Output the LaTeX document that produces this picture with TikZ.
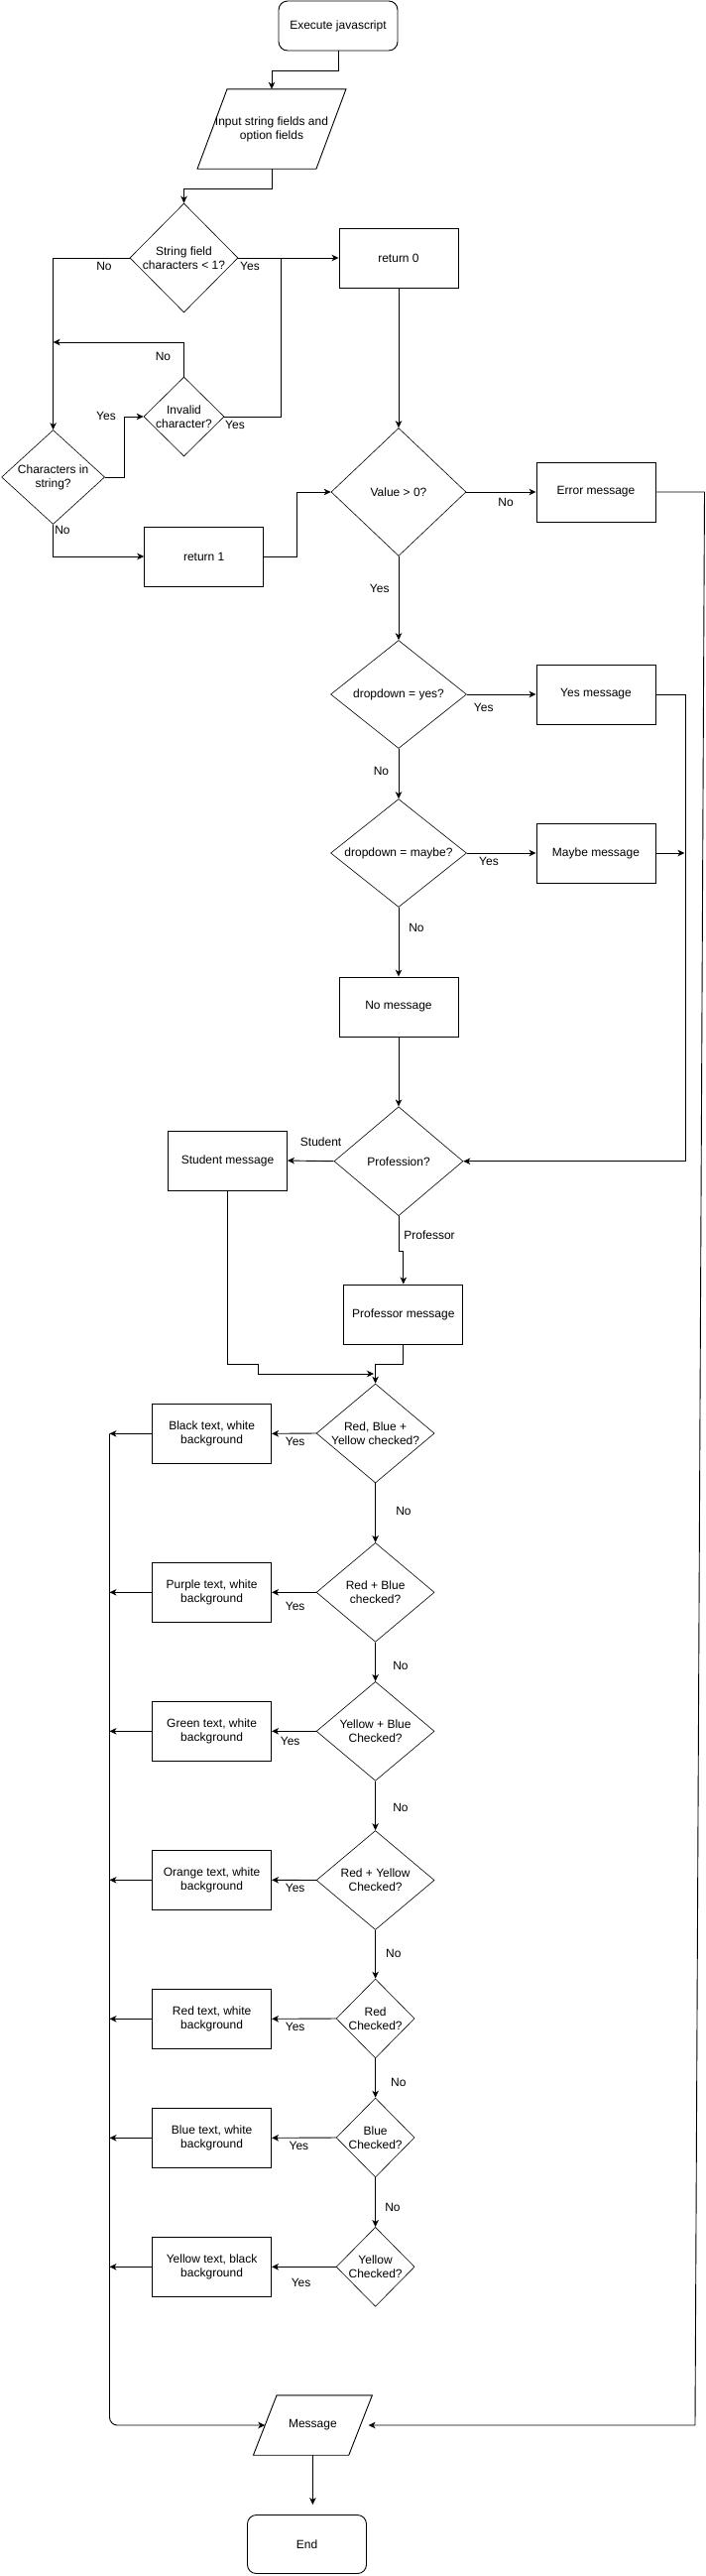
\documentclass[tikz,border=0pt]{standalone}
\usepackage{fontspec}
\setmainfont{Liberation Sans}
\usetikzlibrary{shapes.geometric,arrows.meta,calc}
\begin{document}
\begin{tikzpicture}[x=1pt,y=-1pt,
  every node/.style={font=\fontsize{12}{14}\selectfont},
  box/.style={draw, line width=0.9pt, minimum width=120pt, minimum height=60pt, inner sep=1pt, align=center},
  rbox/.style={box, rounded corners=9pt},
  dec/.style={draw, diamond, line width=0.6pt, inner sep=0pt},
  dtext/.style={align=center, inner sep=0pt},
  io/.style={minimum height=60pt, inner sep=0pt, align=center},
  arr/.style={line width=0.9pt, -{Stealth[length=7pt,width=6.5pt,inset=2pt]}},
  ln/.style={line width=0.9pt},
  lbl/.style={inner sep=0pt}]
\fill[white] (0,0) rectangle (712,2597);
\useasboundingbox (0,0) rectangle (712,2597);

% ---------- nodes ----------
\node[rbox, minimum height=50pt] (exec) at (341,26) {Execute javascript};
\node[io, minimum width=119.5pt, minimum height=80pt] (input) at (274,130) {Input string fields and\\option fields};
\draw[ln] ([xshift=15pt]input.north west) -- ([xshift=15pt]input.north east) -- ([xshift=-15pt]input.south east) -- ([xshift=-15pt]input.south west) -- cycle;

\node[dec, minimum width=109pt, minimum height=110pt] (d1) at (185.5,260) {};
\node[dtext] (d1t) at (d1) {String field\\characters < 1?};
\node[box] (ret0) at (402,260) {return 0};
\node[dec, minimum width=81pt, minimum height=80pt] (d2) at (185.5,420) {};
\node[dtext] (d2t) at (d2) {Invalid\\character?};
\node[dec, minimum width=104pt, minimum height=95pt] (d3) at (53.6,481) {};
\node[dtext] (d3t) at (d3) {Characters in\\string?};
\node[box] (ret1) at (205.7,561) {return 1};
\node[dec, minimum width=136pt, minimum height=129pt] (val) at (402,496) {};
\node[dtext] (valt) at (val) {Value > 0?};
\node[box] (err) at (601,496) {Error message};
\node[dec, minimum width=137pt, minimum height=109pt] (dy) at (402,700) {};
\node[dtext] (dyt) at (dy) {dropdown = yes?};
\node[box] (ym) at (601,700) {Yes message};
\node[dec, minimum width=137pt, minimum height=109pt] (dm) at (402,860) {};
\node[dtext] (dmt) at (dm) {dropdown = maybe?};
\node[box] (mm) at (601,860) {Maybe message};
\node[box] (nm) at (402,1015) {No message};
\node[dec, minimum width=130pt, minimum height=110pt] (prof) at (402,1170.7) {};
\node[dtext] (proft) at (prof) {Profession?};
\node[box] (sm) at (229.5,1170) {Student message};
\node[box] (pm) at (406.8,1325) {Professor message};

\node[dec, minimum width=119pt, minimum height=100pt] (c1) at (378.6,1445) {};
\node[dtext] (c1t) at (c1) {Red, Blue +\\Yellow checked?};
\node[box] (bk) at (213.6,1445.3) {Black text, white\\background};
\node[dec, minimum width=119pt, minimum height=100pt] (c2) at (378.6,1605.3) {};
\node[dtext] (c2t) at (c2) {Red + Blue\\checked?};
\node[box] (pu) at (213.6,1605.3) {Purple text, white\\background};
\node[dec, minimum width=119pt, minimum height=100pt] (c3) at (378.6,1745.3) {};
\node[dtext] (c3t) at (c3) {Yellow + Blue\\Checked?};
\node[box] (gr) at (213.6,1745.3) {Green text, white\\background};
\node[dec, minimum width=119pt, minimum height=100pt] (c4) at (378.6,1895.5) {};
\node[dtext] (c4t) at (c4) {Red + Yellow\\Checked?};
\node[box] (or) at (213.6,1895.3) {Orange text, white\\background};
\node[dec, minimum width=79pt, minimum height=80pt] (c5) at (378.6,2035) {};
\node[dtext] (c5t) at (c5) {Red\\Checked?};
\node[box] (rd) at (213.6,2035.3) {Red text, white\\background};
\node[dec, minimum width=79pt, minimum height=80pt] (c6) at (378.6,2155) {};
\node[dtext] (c6t) at (c6) {Blue\\Checked?};
\node[box] (bl) at (213.6,2155.3) {Blue text, white\\background};
\node[dec, minimum width=79pt, minimum height=80pt] (c7) at (378.6,2285.3) {};
\node[dtext] (c7t) at (c7) {Yellow\\Checked?};
\node[box] (yl) at (213.6,2285.3) {Yellow text, black\\background};

\node[io, minimum width=95.9pt] (msg) at (315.4,2445) {Message};
\draw[ln] ([xshift=11.8pt]msg.north west) -- ([xshift=11.8pt]msg.north east) -- ([xshift=-11.8pt]msg.south east) -- ([xshift=-11.8pt]msg.south west) -- cycle;
\node[rbox, minimum height=59pt] (endn) at (309.5,2565) {End};

% ---------- helper coordinates ----------
\coordinate (nojoin) at (53.6,345);
\coordinate (yj) at (283.6,260);
\coordinate (lx) at (110.5,0);
\coordinate (rtop) at (710.5,496);
\coordinate (rbot) at (701,2445);
\coordinate (sj1) at (260.5,1375);
\coordinate (sj2) at (377,1385);

% ---------- connectors ----------
\draw[arr] (exec.south) -- ++(0,20) -| (input.north);
\draw[arr] (input.south) -- ++(0,20) -| (d1.north);
\draw[arr] (d1.east) -- (ret0.west);
\draw[arr] (d1.west) -| (d3.north);
\draw[arr] (d3.east) -- ++(20,0) |- (d2.west);
\draw[arr] (d2.north) |- (nojoin);
\draw[ln] (d2.east) -| (yj);
\draw[arr] (d3.south) |- (ret1.west);
\draw[arr] (ret1.east) -- ++(33.5,0) |- (val.west);
\draw[arr] (ret0.south) -- (val.north);
\draw[arr] (val.east) -- (err.west);
\draw[arr, shorten >=8pt] (err.east) -- (rtop) -- (rbot) -- (msg.east);
\draw[arr] (val.south) -- (dy.north);
\draw[arr] (dy.east) -- (ym.west);
\draw[arr] (ym.east) -- ++(30,0) |- (prof.east);
\draw[arr] (dy.south) -- (dm.north);
\draw[arr] (dm.east) -- (mm.west);
\draw[arr] (mm.east) -- ++(29,0);
\draw[arr] (dm.south) -- (nm.north);
\draw[arr] (nm.south) -- (prof.north);
\draw[arr] (prof.west) -- (sm.east);
\draw[arr] (prof.south) -- ++(0,35) -| (pm.north);
\draw[arr] (sm.south) |- (sj1) |- (sj2);
\draw[arr] (pm.south) -- ++(0,20) -| (c1.north);

\draw[arr] (c1.west) -- (bk.east);
\draw[arr] (c2.west) -- (pu.east);
\draw[arr] (c3.west) -- (gr.east);
\draw[arr] (c4.west) -- (or.east);
\draw[arr] (c5.west) -- (rd.east);
\draw[arr] (c6.west) -- (bl.east);
\draw[arr] (c7.west) -- (yl.east);
\draw[arr] (c1.south) -- (c2.north);
\draw[arr] (c2.south) -- (c3.north);
\draw[arr] (c3.south) -- (c4.north);
\draw[arr] (c4.south) -- (c5.north);
\draw[arr] (c5.south) -- (c6.north);
\draw[arr] (c6.south) -- (c7.north);
\foreach \b in {bk,pu,gr,or,rd,bl,yl}
  \draw[arr] (\b.west) -- (\b.west -| lx);
\draw[arr, rounded corners=8pt] (lx |- bk.west) |- (msg.west);
\draw[arr, shorten >=10pt] (msg.south) -- (msg.south |- endn.north);

% ---------- labels ----------
\node[lbl] (l1) at (252,268) {Yes};
\node[lbl] (l2) at (105,268) {No};
\node[lbl] (l3) at (164.5,359) {No};
\node[lbl] (l4) at (107,419) {Yes};
\node[lbl] (l5) at (237,428.7) {Yes};
\node[lbl] (l6) at (63,534) {No};
\node[lbl] (l7) at (510,506.7) {No};
\node[lbl] (l8) at (382.7,593) {Yes};
\node[lbl] (l9) at (487.7,713.7) {Yes};
\node[lbl] (l10) at (384.5,777.7) {No};
\node[lbl] (l11) at (493,868.7) {Yes};
\node[lbl] (l12) at (420,935.7) {No};
\node[lbl] (l13) at (323.6,1150.7) {Student};
\node[lbl] (l14) at (433,1245.7) {Professor};
\node[lbl] (l15) at (297.7,1453) {Yes};
\node[lbl] (l16) at (407,1523.7) {No};
\node[lbl] (l17) at (297.7,1619.7) {Yes};
\node[lbl] (l18) at (404,1679.7) {No};
\node[lbl] (l19) at (292.7,1755.7) {Yes};
\node[lbl] (l20) at (404,1822.7) {No};
\node[lbl] (l21) at (297.7,1903.7) {Yes};
\node[lbl] (l22) at (396.8,1969.7) {No};
\node[lbl] (l23) at (297.7,2043.7) {Yes};
\node[lbl] (l24) at (401.8,2099) {No};
\node[lbl] (l25) at (301.4,2163.7) {Yes};
\node[lbl] (l26) at (396,2225.7) {No};
\node[lbl] (l27) at (303.6,2301.7) {Yes};
\end{tikzpicture}
\end{document}
